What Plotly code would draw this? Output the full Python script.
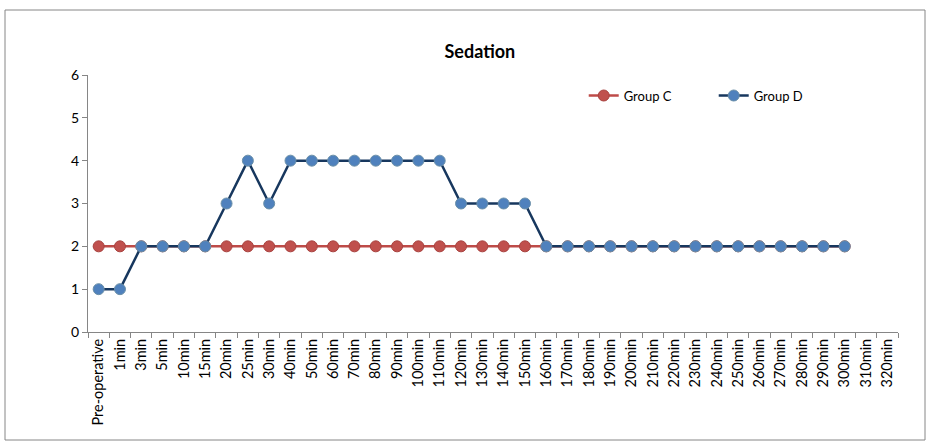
import plotly.graph_objects as go

categories = ["Pre-operative", "1min", "3min", "5min", "10min", "15min", "20min", "25min", "30min",
              "40min", "50min", "60min", "70min", "80min", "90min", "100min", "110min", "120min",
              "130min", "140min", "150min", "160min", "170min", "180min", "190min", "200min",
              "210min", "220min", "230min", "240min", "250min", "260min", "270min", "280min",
              "290min", "300min", "310min", "320min"]

group_c = [2, 2, 2, 2, 2, 2, 2, 2, 2, 2, 2, 2, 2, 2, 2, 2, 2, 2, 2, 2, 2, 2,
           2, 2, 2, 2, 2, 2, 2, 2, 2, 2, 2, 2, 2, 2, None, None]
group_d = [1, 1, 2, 2, 2, 2, 3, 4, 3, 4, 4, 4, 4, 4, 4, 4, 4, 3, 3, 3, 3, 2,
           2, 2, 2, 2, 2, 2, 2, 2, 2, 2, 2, 2, 2, 2, None, None]

FONT = "Lato, 'Open Sans', sans-serif"

fig = go.Figure()
fig.add_trace(go.Scatter(
    x=categories, y=group_c, name="Group C", mode="lines+markers",
    line=dict(color="#BE4B48", width=2.5),
    marker=dict(color="#C0504D", size=11, line=dict(color="#A8423F", width=1)),
))
fig.add_trace(go.Scatter(
    x=categories, y=group_d, name="Group D", mode="lines+markers",
    line=dict(color="#17375E", width=2.5),
    marker=dict(color="#4F81BD", size=11, line=dict(color="#6A8FA8", width=1)),
))

fig.update_layout(
    width=930, height=448,
    margin=dict(l=88, r=32, t=75, b=116, autoexpand=False),
    paper_bgcolor="white", plot_bgcolor="white",
    title=dict(text="<b>Sedation</b>", x=0.516, xanchor="center", y=0.885, yanchor="middle",
               font=dict(family=FONT, size=18, color="black")),
    font=dict(family=FONT, color="black"),
    showlegend=True,
    legend=dict(orientation="h", x=0.612, y=0.92, xanchor="left", yanchor="middle",
                font=dict(size=13), bgcolor="rgba(0,0,0,0)", itemwidth=30,
                entrywidth=85, entrywidthmode="pixels", tracegroupgap=0),
    xaxis=dict(type="category", categoryorder="array", categoryarray=categories,
               range=[-0.5, len(categories) - 0.5],
               showline=True, linecolor="#868686", linewidth=1,
               ticks="outside", ticklen=5, tickcolor="#868686", tickson="boundaries",
               tickangle=-90, tickfont=dict(size=14.5), showgrid=False, zeroline=False),
    yaxis=dict(range=[0, 6], dtick=1, showline=True, linecolor="#868686", linewidth=1,
               ticks="outside", ticklen=5, tickcolor="#868686",
               tickfont=dict(size=14), showgrid=False, zeroline=False),
    shapes=[dict(type="rect", xref="paper", yref="paper",
                 x0=(5 - 88) / 810, x1=(925 - 88) / 810,
                 y0=(332 - 440) / 257, y1=(332 - 10) / 257,
                 line=dict(color="#868686", width=1), fillcolor="rgba(0,0,0,0)", layer="below")],
)

fig.write_html("out.html")
